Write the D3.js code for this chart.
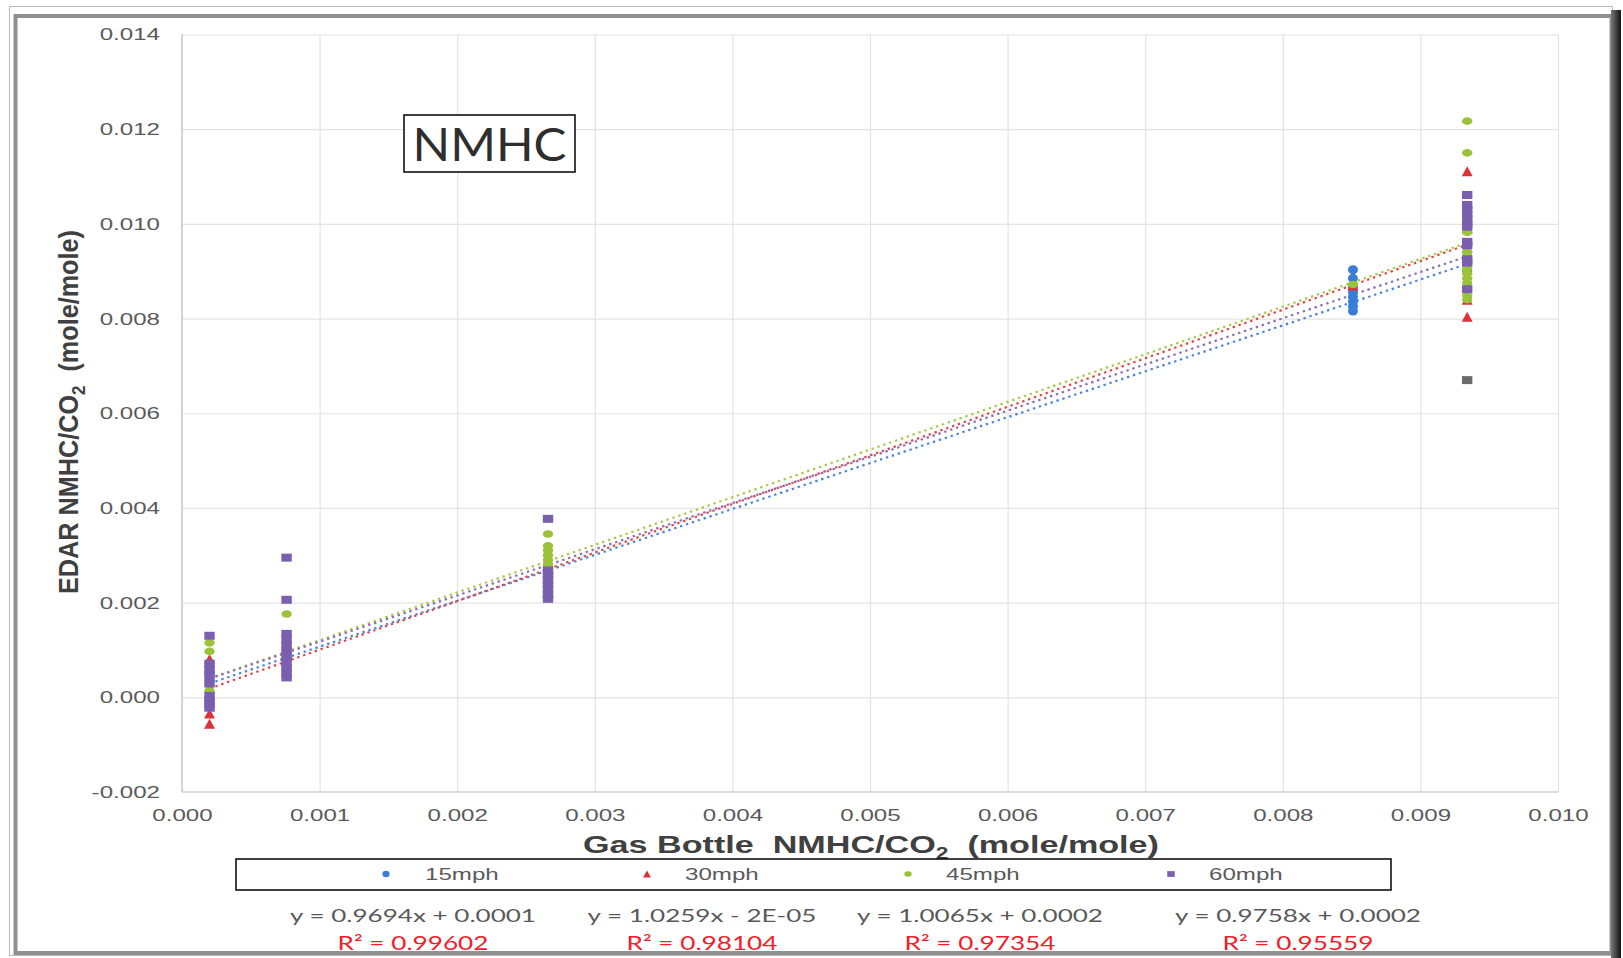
<!DOCTYPE html>
<html>
<head>
<meta charset="utf-8">
<script src="https://cdn.jsdelivr.net/npm/d3@7"></script>
<style>
  body { margin: 0; background: #fff; }
  svg { display: block; }
</style>
</head>
<body>
<svg id="chart" width="1623" height="958"></svg>
<script>
// ---- Data -------------------------------------------------------------
// Gas bottle NMHC/CO2 reference levels (mole/mole)
const bottleLevels = [0.00020, 0.00076, 0.00266, 0.00851, 0.00934];

// EDAR NMHC/CO2 readings at each bottle level (one inner array per level)
const readings15mph = [
  [0.00052, 0.00035, 0.00044],
  [0.00085, 0.00100],
  [0.00260, 0.00275],
  [0.00903, 0.00885, 0.00866, 0.00856, 0.00846, 0.00836, 0.00826, 0.00816],
  [0.00900, 0.00915, 0.00930]
];
const readings30mph = [
  [0.00081, 0.00020, -0.00034, -0.00056],
  [0.00074, 0.00090],
  [0.00250, 0.00222, 0.00270],
  [0.00870],
  [0.01111, 0.00991, 0.00950, 0.00840, 0.00804]
];
const readings45mph = [
  [0.00115, 0.00097, 0.00050, 0.00014],
  [0.00176, 0.00095, 0.00088, 0.00080],
  [0.00345, 0.00320, 0.00310, 0.00300, 0.00290, 0.00280, 0.00270],
  [0.00872],
  [0.01217, 0.01150, 0.00982, 0.00940, 0.00905, 0.00895, 0.00885, 0.00875, 0.00848, 0.00840]
];
const readings60mph = [
  [0.00130, 0.00071, 0.00060, 0.00046, 0.00029, 0.00003, -0.00007, -0.00015, -0.00022],
  [0.00295, 0.00206, 0.00134, 0.00122, 0.00110, 0.00098, 0.00086, 0.00074, 0.00062, 0.00051, 0.00042],
  [0.00377, 0.00268, 0.00258, 0.00248, 0.00238, 0.00228, 0.00218, 0.00208],
  [],
  [0.01061, 0.01040, 0.01030, 0.01020, 0.01010, 0.01000, 0.00994, 0.00962, 0.00955,
   0.00925, 0.00918, 0.00862]
];
// Single reading outside the speed series
const extraReading = [[0.00934, 0.00670]];

const seriesNames = ["15mph", "30mph", "45mph", "60mph"];
const trendSlopes = [0.9694, 1.0259, 1.0065, 0.9758];
const trendIntercepts = [0.0001, -0.00002, 0.0002, 0.0002];
const equationLabels = ["y = 0.9694x + 0.0001", "y = 1.0259x - 2E-05", "y = 1.0065x + 0.0002", "y = 0.9758x + 0.0002"];
const r2Labels = ["0.99602", "0.98104", "0.97354", "0.95559"];

const xTicks = [0.000, 0.001, 0.002, 0.003, 0.004, 0.005, 0.006, 0.007, 0.008, 0.009, 0.010];
const yTicks = [-0.002, 0.000, 0.002, 0.004, 0.006, 0.008, 0.010, 0.012, 0.014];

// ---- Styling ----------------------------------------------------------
const markerColors = ["#3a7dd6", "#de323b", "#9cc23a", "#7a5fae"];
const trendColors  = ["#4b87d9", "#e04848", "#a9c94a", "#8a6fb8"];
const TEXT_SX = 1.42;           // horizontal stretch applied to chart lettering
const SANS = "'Liberation Sans', Arial, sans-serif";
const LABEL = "Lato, 'Open Sans', sans-serif";

const svg = d3.select("#chart");

// ---- Frame ------------------------------------------------------------
const defs = svg.append("defs");
const shade = defs.append("linearGradient").attr("id", "rshade").attr("x1", 0).attr("x2", 1);
shade.append("stop").attr("offset", 0).attr("stop-color", "#777");
shade.append("stop").attr("offset", 1).attr("stop-color", "#111");

svg.append("rect").attr("x", 9.5).attr("y", 6.5).attr("width", 1603).attr("height", 949)
  .attr("fill", "#fff").attr("stroke", "#b8b8b8");
svg.append("rect").attr("x", 15.5).attr("y", 16).attr("width", 1596).attr("height", 937)
  .attr("fill", "none").attr("stroke", "#909090").attr("stroke-width", 4);
svg.append("rect").attr("x", 1611).attr("y", 10).attr("width", 10).attr("height", 948)
  .attr("fill", "url(#rshade)");

// ---- Scales -----------------------------------------------------------
const x = d3.scaleLinear().domain([0, 0.010]).range([182, 1558]);
const y = d3.scaleLinear().domain([-0.002, 0.014]).range([792, 34.5]);
const fmt = v => d3.format(".3f")(v).replace("\u2212", "-");

// Gridlines
svg.append("g").attr("transform", `translate(0,${y.range()[0]})`)
  .call(d3.axisBottom(x).tickValues(xTicks.slice(1)).tickSize(-(y.range()[0] - y.range()[1])).tickFormat(""))
  .call(g => g.select(".domain").remove())
  .call(g => g.selectAll("line").attr("stroke", "#e3e3e3").attr("stroke-width", 1.2));
svg.append("g").attr("transform", `translate(${x.range()[0]},0)`)
  .call(d3.axisLeft(y).tickValues(yTicks.slice(1)).tickSize(-(x.range()[1] - x.range()[0])).tickFormat(""))
  .call(g => g.select(".domain").remove())
  .call(g => g.selectAll("line").attr("stroke", "#e3e3e3").attr("stroke-width", 1.2));

// Axis lines
svg.append("line").attr("x1", x(0)).attr("x2", x(0)).attr("y1", y(0.014)).attr("y2", y(-0.002))
  .attr("stroke", "#c4c4c4").attr("stroke-width", 1.5);
svg.append("line").attr("x1", x(0)).attr("x2", x(0.010)).attr("y1", y(-0.002)).attr("y2", y(-0.002))
  .attr("stroke", "#cfcfcf").attr("stroke-width", 1.5);

// Tick labels
const yPad = 22, xPad = 17;
svg.append("g").attr("transform", `translate(${x.range()[0]},0)`)
  .call(d3.axisLeft(y).tickValues(yTicks).tickSize(0).tickPadding(yPad).tickFormat(fmt))
  .call(g => g.select(".domain").remove())
  .call(g => g.selectAll("text")
    .attr("x", -yPad / TEXT_SX).attr("transform", `scale(${TEXT_SX},1)`)
    .attr("font-family", SANS).attr("font-size", 17).attr("fill", "#5a5a5a"));
svg.append("g").attr("transform", `translate(0,${y.range()[0]})`)
  .call(d3.axisBottom(x).tickValues(xTicks).tickSize(0).tickPadding(xPad).tickFormat(fmt))
  .call(g => g.select(".domain").remove())
  .call(g => g.selectAll("text")
    .attr("transform", `scale(${TEXT_SX},1)`)
    .attr("font-family", SANS).attr("font-size", 17).attr("fill", "#5a5a5a"));

// ---- Helpers ----------------------------------------------------------
function fitWidth(textSel, width, sy = 1) {
  const w = textSel.node().getBBox().width;
  textSel.attr("transform", `scale(${width / w},${sy})`);
}

function drawMarker(g, kind, cx, cy, color, s = 1) {
  if (kind === 0) {
    g.append("ellipse").attr("cx", cx).attr("cy", cy).attr("rx", 5 * s).attr("ry", 4.5 * s).attr("fill", color);
  } else if (kind === 1) {
    const w = 11 * s, h = 10 * s;
    g.append("path").attr("d", `M${cx},${cy - h / 2}L${cx + w / 2},${cy + h / 2}L${cx - w / 2},${cy + h / 2}Z`).attr("fill", color);
  } else if (kind === 2) {
    g.append("ellipse").attr("cx", cx).attr("cy", cy).attr("rx", 5.2 * s).attr("ry", 3.8 * s).attr("fill", color);
  } else {
    g.append("rect").attr("x", cx - 5.2 * s).attr("y", cy - 4 * s).attr("width", 10.4 * s).attr("height", 8 * s).attr("fill", color);
  }
}

// ---- Trend lines ------------------------------------------------------
const allSeries = [readings15mph, readings30mph, readings45mph, readings60mph];
const xLo = d3.min(bottleLevels), xHi = d3.max(bottleLevels);
const trendG = svg.append("g");
trendSlopes.forEach((m, i) => {
  const b = trendIntercepts[i];
  trendG.append("line")
    .attr("x1", x(xLo)).attr("y1", y(m * xLo + b))
    .attr("x2", x(xHi)).attr("y2", y(m * xHi + b))
    .attr("stroke", trendColors[i]).attr("stroke-width", 2.2)
    .attr("stroke-dasharray", "2.4,3.8");
});

// ---- Points -----------------------------------------------------------
const ptsG = svg.append("g");
allSeries.forEach((levels, si) => {
  levels.forEach((vals, li) => {
    vals.forEach(v => drawMarker(ptsG, si, x(bottleLevels[li]), y(v), markerColors[si]));
  });
});
extraReading.forEach(([bx, v]) => drawMarker(ptsG, 3, x(bx), y(v), "#6c6c6c"));

// ---- Title box --------------------------------------------------------
svg.append("rect").attr("x", 404).attr("y", 115).attr("width", 171).attr("height", 57)
  .attr("fill", "#fff").attr("stroke", "#111").attr("stroke-width", 1.6);
{
  const g = svg.append("g").attr("transform", "translate(489.5,161)");
  const t = g.append("text").attr("text-anchor", "middle").attr("font-family", LABEL)
    .attr("font-size", 46).attr("fill", "#2e2e2e").text("NMHC");
  fitWidth(t, 154);
}

// ---- Axis titles ------------------------------------------------------
{
  const g = svg.append("g").attr("transform", "translate(871,853)");
  const t = g.append("text").attr("text-anchor", "middle").attr("font-family", SANS)
    .attr("font-weight", "bold").attr("font-size", 24).attr("fill", "#404040");
  t.append("tspan").text("Gas Bottle\u00a0\u00a0NMHC/CO");
  t.append("tspan").attr("font-size", 16).attr("dy", 6).text("2");
  t.append("tspan").attr("dy", -6).text("\u00a0\u00a0(mole/mole)");
  fitWidth(t, 576);
}
{
  const g = svg.append("g").attr("transform", "translate(78,412) rotate(-90)");
  const t = g.append("text").attr("text-anchor", "middle").attr("font-family", SANS)
    .attr("font-weight", "bold").attr("font-size", 24).attr("fill", "#404040");
  t.append("tspan").text("EDAR NMHC/CO");
  t.append("tspan").attr("font-size", 16).attr("dy", 6).text("2");
  t.append("tspan").attr("dy", -6).text("\u00a0\u00a0(mole/mole)");
  fitWidth(t, 364, 1.15);
}

// ---- Legend -----------------------------------------------------------
svg.append("rect").attr("x", 236).attr("y", 859).attr("width", 1155).attr("height", 31)
  .attr("fill", "#fff").attr("stroke", "#111").attr("stroke-width", 1.6);
const legendMarkerX = [386, 647, 908, 1171];
const legendTextX = [425, 685, 946, 1209];
const legG = svg.append("g");
seriesNames.forEach((name, i) => {
  drawMarker(legG, i, legendMarkerX[i], 874, markerColors[i], 0.72);
  legG.append("text").attr("transform", `translate(${legendTextX[i]},880) scale(${TEXT_SX},1)`)
    .attr("font-family", SANS).attr("font-size", 17).attr("fill", "#5a5a5a").text(name);
});

// ---- Regression equations ---------------------------------------------
const eqCenters = [413, 702, 980, 1298];
const eqG = svg.append("g");
const eqTexts = equationLabels.map((lab, i) =>
  eqG.append("g").attr("transform", `translate(${eqCenters[i]},922)`)
    .append("text").attr("text-anchor", "middle").attr("font-family", LABEL)
    .attr("font-size", 18).attr("fill", "#595959").text(lab));
const eqSx = 246 / eqTexts[0].node().getBBox().width;
eqTexts.forEach(t => t.attr("transform", `scale(${eqSx},1)`));

const r2Texts = r2Labels.map((lab, i) =>
  eqG.append("g").attr("transform", `translate(${eqCenters[i]},950)`)
    .append("text").attr("text-anchor", "middle").attr("font-family", LABEL)
    .attr("font-size", 19).attr("fill", "#f0202a").text("R\u00b2 = " + lab));
const r2Sx = 151 / r2Texts[0].node().getBBox().width;
r2Texts.forEach(t => t.attr("transform", `scale(${r2Sx},1)`));
</script>
</body>
</html>
